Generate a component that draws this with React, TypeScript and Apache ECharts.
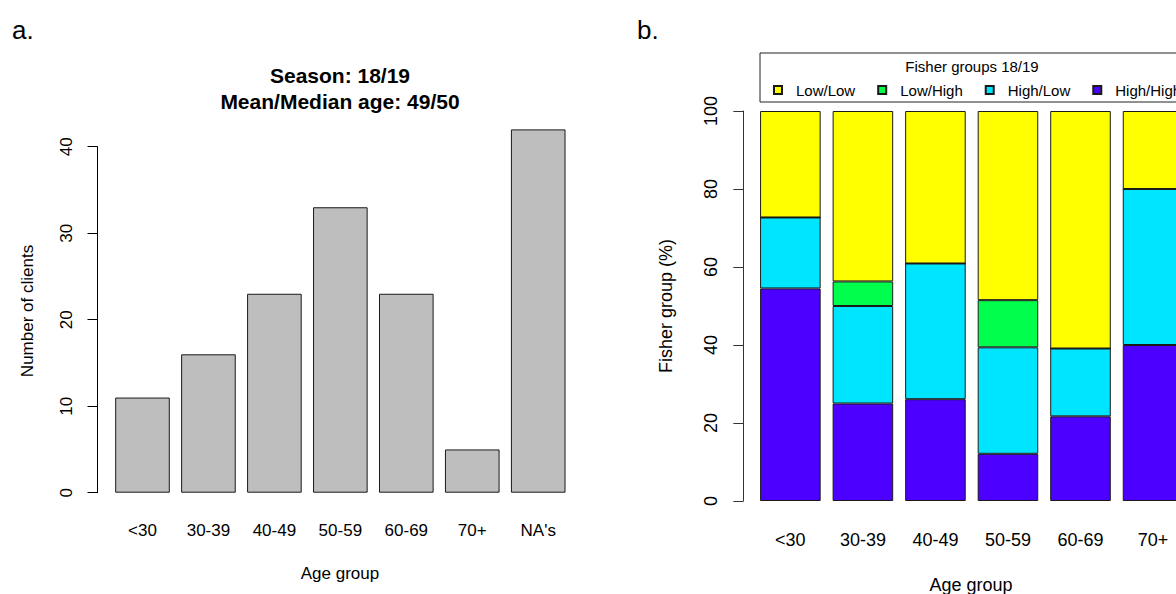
import React, { useEffect, useRef } from "react";
import * as echarts from "echarts";

// Panel a: number of clients per age group
const ageGroupsA = ["<30", "30-39", "40-49", "50-59", "60-69", "70+", "NA's"];
const clientCounts = [11, 16, 23, 33, 23, 5, 42];
const countTicks = { min: 0, max: 40, interval: 10 };

// Panel b: fisher group shares (%) per age group
const ageGroupsB = ["<30", "30-39", "40-49", "50-59", "60-69", "70+"];
const highHigh = [54.5, 25.0, 26.1, 12.1, 21.7, 40.0];
const highLow = [18.2, 25.0, 34.8, 27.3, 17.4, 40.0];
const lowHigh = [0, 6.3, 0, 12.1, 0, 0];
const lowLow = [27.3, 43.7, 39.1, 48.5, 60.9, 20.0];
const fisherNames = ["Low/Low", "Low/High", "High/Low", "High/High"];
const pctTicks = { min: 0, max: 100, interval: 20 };

const FONT = "'Liberation Sans', Arial, sans-serif";

export default function App() {
  const ref = useRef<HTMLDivElement>(null);

  useEffect(() => {
    document.body.style.margin = "0";
    document.body.style.overflow = "hidden";
    const chart = echarts.init(ref.current!, undefined, { renderer: "svg" });

    const border = { borderColor: "#1a1a1a", borderWidth: 1 };
    const stackSeries = (name: string, data: number[], color: string) => ({
      name,
      type: "bar",
      stack: "fisher",
      xAxisIndex: 1,
      yAxisIndex: 1,
      data,
      barCategoryGap: "16.5%",
      itemStyle: { color, ...border },
    });

    chart.setOption({
      animation: false,
      textStyle: { fontFamily: FONT },
      title: [
        {
          text: "Season: 18/19\nMean/Median age: 49/50",
          left: 340,
          top: 62,
          textAlign: "center",
          padding: 0,
          textStyle: { fontFamily: FONT, fontSize: 21, fontWeight: "bold", lineHeight: 26, color: "#000" },
        },
        {
          text: "Fisher groups 18/19",
          left: 972,
          top: 58.5,
          textAlign: "center",
          padding: 0,
          textStyle: { fontFamily: FONT, fontSize: 15, fontWeight: "normal", lineHeight: 15, color: "#000" },
        },
      ],
      legend: {
        data: fisherNames,
        orient: "horizontal",
        left: 760,
        top: 53,
        width: 700,
        padding: [29.5, 12, 4.5, 13],
        borderColor: "#222",
        borderWidth: 1,
        itemWidth: 8,
        itemHeight: 8,
        itemGap: 22,
        icon: "rect",
        textStyle: { fontFamily: FONT, fontSize: 15, lineHeight: 15, color: "#000", padding: [0, 0, 0, 9] },
      },
      grid: [
        { left: 109.5, width: 461.7, top: 146.7, height: 346, containLabel: false },
        { left: 754.1, width: 435.2, top: 111, height: 390, containLabel: false },
      ],
      xAxis: [
        {
          type: "category",
          gridIndex: 0,
          data: ageGroupsA,
          axisLine: { show: false },
          axisTick: { show: false },
          axisLabel: { fontFamily: FONT, fontSize: 17, lineHeight: 17, color: "#000", margin: 29 },
        },
        {
          type: "category",
          gridIndex: 1,
          data: ageGroupsB,
          axisLine: { show: false },
          axisTick: { show: false },
          axisLabel: { fontFamily: FONT, fontSize: 18, lineHeight: 18, color: "#000", margin: 30 },
        },
      ],
      yAxis: [
        {
          type: "value",
          gridIndex: 0,
          ...countTicks,
          offset: 12,
          axisLine: { show: true, lineStyle: { color: "#000", width: 1 } },
          axisTick: { show: true, length: 10, lineStyle: { color: "#000" } },
          axisLabel: { fontFamily: FONT, fontSize: 17, lineHeight: 17, color: "#000", rotate: 90, margin: 23 },
          splitLine: { show: false },
        },
        {
          type: "value",
          gridIndex: 1,
          ...pctTicks,
          offset: 10.8,
          axisLine: { show: true, lineStyle: { color: "#333", width: 1 } },
          axisTick: { show: true, length: 10, lineStyle: { color: "#333" } },
          axisLabel: { fontFamily: FONT, fontSize: 18, lineHeight: 18, color: "#000", rotate: 90, margin: 23 },
          splitLine: { show: false },
        },
      ],
      series: [
        {
          name: "Clients",
          type: "bar",
          xAxisIndex: 0,
          yAxisIndex: 0,
          data: clientCounts,
          barCategoryGap: "17.2%",
          clip: false,
          itemStyle: { color: "#BEBEBE", ...border },
        },
        stackSeries("High/High", highHigh, "#4C00FF"),
        stackSeries("High/Low", highLow, "#00E5FF"),
        stackSeries("Low/High", lowHigh, "#00FF4D"),
        stackSeries("Low/Low", lowLow, "#FFFF00"),
      ],
      graphic: [
        { type: "text", x: 12, y: 30, style: { text: "a.", font: `26px ${FONT}`, fill: "#000", verticalAlign: "middle" } },
        { type: "text", x: 637, y: 30, style: { text: "b.", font: `26px ${FONT}`, fill: "#000", verticalAlign: "middle" } },
        {
          type: "text", x: 27, y: 311, rotation: Math.PI / 2,
          style: { text: "Number of clients", font: `17px ${FONT}`, fill: "#000", align: "center", verticalAlign: "middle" },
        },
        {
          type: "text", x: 340, y: 573,
          style: { text: "Age group", font: `17px ${FONT}`, fill: "#000", align: "center", verticalAlign: "middle" },
        },
        {
          type: "text", x: 666, y: 306, rotation: Math.PI / 2,
          style: { text: "Fisher group (%)", font: `18px ${FONT}`, fill: "#000", align: "center", verticalAlign: "middle" },
        },
        {
          type: "text", x: 971, y: 585,
          style: { text: "Age group", font: `18px ${FONT}`, fill: "#000", align: "center", verticalAlign: "middle" },
        },
      ],
    });

    return () => chart.dispose();
  }, []);

  return (
    <div style={{ width: 1176, height: 594, overflow: "hidden", position: "relative" }}>
      <div ref={ref} style={{ width: 1210, height: 594 }} />
    </div>
  );
}
